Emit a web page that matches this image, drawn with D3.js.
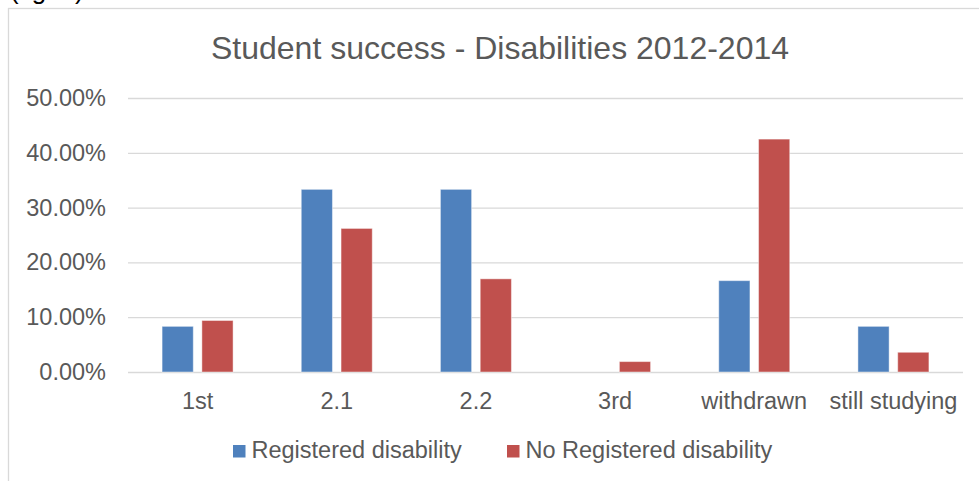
<!DOCTYPE html>
<html>
<head>
<meta charset="utf-8">
<script src="https://cdn.jsdelivr.net/npm/d3@7"></script>
<style>
  body { margin: 0; background: #fff; }
  svg { display: block; font-family: "Liberation Sans", Arial, sans-serif; }
</style>
</head>
<body>
<div id="chart"></div>
<script>
// data
var categories = ['1st', '2.1', '2.2', '3rd', 'withdrawn', 'still studying'];
var seriesNames = ['Registered disability', 'No Registered disability'];
var registered = [8.33, 33.33, 33.33, 0, 16.67, 8.33];
var notRegistered = [9.4, 26.2, 17.0, 1.9, 42.5, 3.6];
var yTicks = [0, 10, 20, 30, 40, 50];
var colors = ['#4f81bd', '#c0504d'];

var width = 979, height = 481;
var margin = { top: 98, right: 16, bottom: 109, left: 128 };
var w = width - margin.left - margin.right,
    h = height - margin.top - margin.bottom;

var svg = d3.select('#chart')
    .append('svg')
    .attr('width', width)
    .attr('height', height);

// caption of the document, cut off by the top edge
svg.append('text')
    .attr('x', 10).attr('y', -1)
    .style('font-size', '26px')
    .attr('fill', '#000')
    .text('(fig. 1)');

// chart area border (runs off the right and bottom edges)
svg.append('rect')
    .attr('x', 8.5).attr('y', 8.5)
    .attr('width', 990).attr('height', 500)
    .attr('fill', 'none')
    .attr('stroke', '#d9d9d9')
    .attr('stroke-width', 1.3);

var g = svg.append('g')
    .attr('transform', 'translate(' + margin.left + ',' + margin.top + ')');

var x0 = d3.scaleBand()
    .domain(categories)
    .range([0, w])
    .paddingInner(0)
    .paddingOuter(0);

var groupW = 71;
var x1 = d3.scaleBand()
    .domain([0, 1])
    .range([0, groupW])
    .paddingInner(0.216);

var y = d3.scaleLinear()
    .domain([0, 50])
    .range([h, 0]);

// gridlines
g.append('g')
    .attr('class', 'grid')
    .call(d3.axisLeft(y).tickValues(yTicks).tickSize(-w).tickFormat(''))
    .call(function(s) {
        s.select('.domain').remove();
        s.selectAll('line').attr('stroke', '#d9d9d9').attr('stroke-width', 1.3);
    });

// y tick labels
g.append('g')
    .call(d3.axisLeft(y).tickValues(yTicks).tickSize(0).tickPadding(22)
        .tickFormat(function(d) { return d3.format('.2f')(d) + '%'; }))
    .call(function(s) {
        s.select('.domain').remove();
        s.selectAll('text')
            .attr('fill', '#595959')
            .style('font-size', '23.5px')
            .style('font-family', '"Liberation Sans", Arial, sans-serif');
    });

// x category labels
g.append('g')
    .attr('transform', 'translate(0,' + h + ')')
    .call(d3.axisBottom(x0).tickSize(0).tickPadding(20))
    .call(function(s) {
        s.select('.domain').remove();
        s.selectAll('text')
            .attr('fill', '#595959')
            .style('font-size', '23.5px')
            .style('font-family', '"Liberation Sans", Arial, sans-serif');
    });

var rows = categories.map(function(c, i) {
    return { cat: c, values: [registered[i], notRegistered[i]] };
});

var groups = g.selectAll('.cat')
    .data(rows)
    .enter()
    .append('g')
    .attr('class', 'cat')
    .attr('transform', function(d) {
        return 'translate(' + (x0(d.cat) + x0.bandwidth() / 2 - groupW / 2) + ',0)';
    });

groups.selectAll('rect')
    .data(function(d) { return d.values.map(function(v, k) { return { k: k, v: v }; }); })
    .enter()
    .filter(function(d) { return d.v > 0; })
    .append('rect')
    .attr('x', function(d) { return x1(d.k); })
    .attr('y', function(d) { return y(d.v); })
    .attr('width', x1.bandwidth())
    .attr('height', function(d) { return h - y(d.v); })
    .attr('fill', function(d) { return colors[d.k]; })
    .attr('stroke', '#ffffff')
    .attr('stroke-opacity', 0.45)
    .attr('stroke-width', 1);

// title
svg.append('text')
    .attr('x', 500)
    .attr('y', 59)
    .attr('text-anchor', 'middle')
    .attr('fill', '#595959')
    .style('font-size', '32px')
    .text('Student success - Disabilities 2012-2014');

// legend
var legendX = [233, 507];
var legend = svg.selectAll('.legend')
    .data(seriesNames)
    .enter()
    .append('g')
    .attr('class', 'legend')
    .attr('transform', function(d, i) { return 'translate(' + legendX[i] + ',445)'; });

legend.append('rect')
    .attr('width', 12.5)
    .attr('height', 12.5)
    .attr('fill', function(d, i) { return colors[i]; });

legend.append('text')
    .attr('x', 18.5)
    .attr('y', 13)
    .attr('fill', '#595959')
    .style('font-size', '23.5px')
    .text(function(d) { return d; });
</script>
</body>
</html>
